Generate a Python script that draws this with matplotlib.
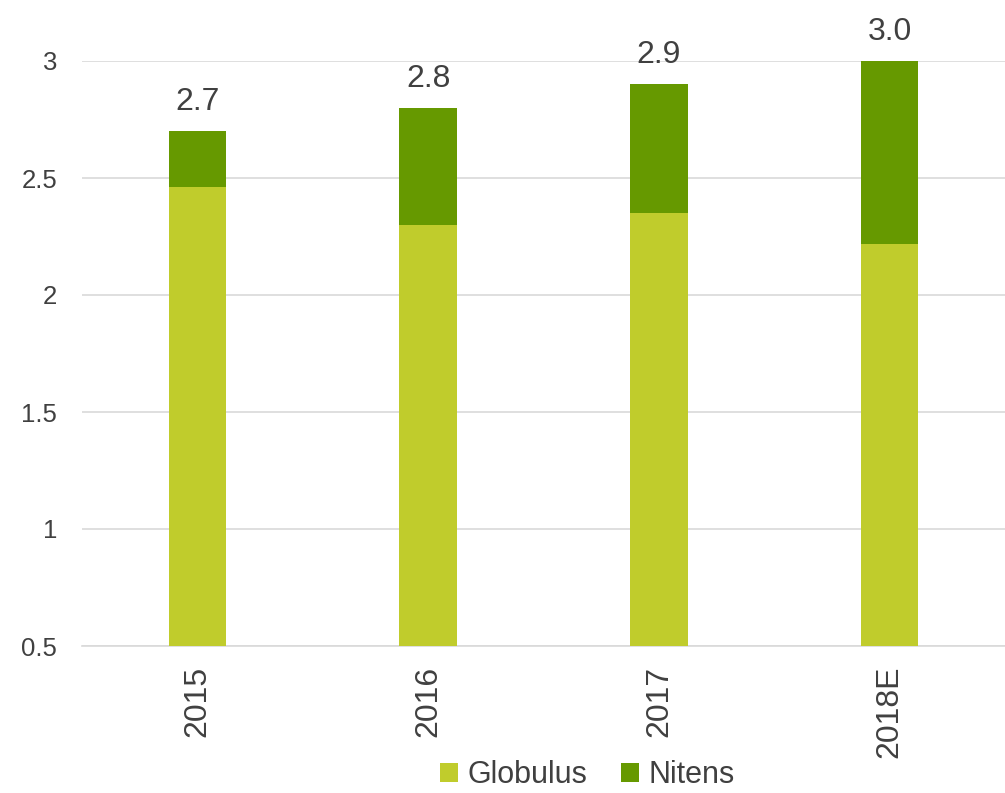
import matplotlib
matplotlib.use("Agg")
from matplotlib import pyplot as plt
import numpy as np

years = ["2015", "2016", "2017", "2018E"]
globulus = [2.46, 2.30, 2.35, 2.22]
nitens = [0.24, 0.50, 0.55, 0.78]
totals = ["2.7", "2.8", "2.9", "3.0"]

plt.rcParams['font.family'] = ['Liberation Sans', 'DejaVu Sans']
text_color = "#404040"

fig = plt.figure(figsize=(10.05, 7.93), dpi=100)
ax = fig.add_axes([82 / 1005, 1 - 646 / 793, 923 / 1005, 585 / 793])

x = np.arange(len(years))
g = ax.bar(x, globulus, width=0.25, color="#C0CC2C", label="Globulus", zorder=3)
n = ax.bar(x, nitens, width=0.25, bottom=globulus, color="#669900", label="Nitens", zorder=3)

for xi, g_val, n_val, lab in zip(x, globulus, nitens, totals):
    ax.text(xi, g_val + n_val + 0.06, lab, ha="center", va="bottom",
            fontsize=23, color=text_color, clip_on=False)

ax.set_xlim(-0.5, 3.5)
ax.set_ylim(0.5, 3.0)
ax.set_yticks([0.5, 1, 1.5, 2, 2.5, 3])
ax.set_yticklabels(["0.5", "1", "1.5", "2", "2.5", "3"])
ax.set_xticks(x)
ax.set_xticklabels(years, rotation=90)
ax.tick_params(axis="y", length=0, labelsize=18.5, colors=text_color, pad=18)
ax.tick_params(axis="x", length=0, labelsize=23, colors=text_color, pad=14)

ax.grid(axis="y", color="#D9D9D9", linewidth=1.2, zorder=0)
for side in ["top", "right", "left"]:
    ax.spines[side].set_visible(False)
ax.spines["bottom"].set_color("#D9D9D9")
ax.spines["bottom"].set_linewidth(1.2)

fig.legend(handles=[g, n], loc="center", bbox_to_anchor=(587 / 1005, 1 - 775 / 793),
           ncol=2, frameon=False, fontsize=22, handlelength=0.6, handleheight=0.6,
           handletextpad=0.3, columnspacing=1.1, labelcolor=text_color)

plt.savefig("out.png", dpi=100)
